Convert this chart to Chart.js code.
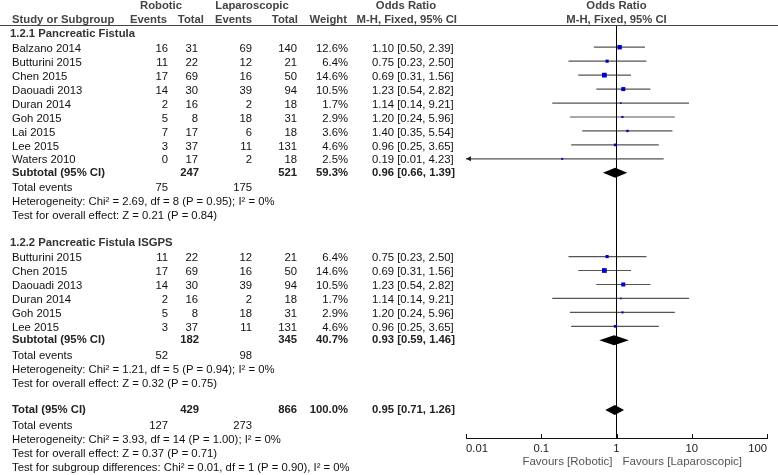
<!DOCTYPE html>
<html>
<head>
<meta charset="utf-8">
<script src="https://cdn.jsdelivr.net/npm/chart.js@4.4.0/dist/chart.umd.min.js"></script>
<style>
  html, body { margin: 0; padding: 0; background: #fff; }
  #wrap { width: 778px; height: 475px; }
</style>
</head>
<body>
<div id="wrap"><canvas id="forest" width="778" height="475"></canvas></div>
<script>
// Study rows, both subgroups, in the order they are listed
const studyNames = ['Balzano 2014', 'Butturini 2015', 'Chen 2015', 'Daouadi 2013', 'Duran 2014', 'Goh 2015', 'Lai 2015', 'Lee 2015', 'Waters 2010',
  'Butturini 2015', 'Chen 2015', 'Daouadi 2013', 'Duran 2014', 'Goh 2015', 'Lee 2015'];
const roboticEvents = [16, 11, 17, 14, 2, 5, 7, 3, 0, 11, 17, 14, 2, 5, 3];
const roboticTotals = [31, 22, 69, 30, 16, 8, 17, 37, 17, 22, 69, 30, 16, 8, 37];
const lapEvents = [69, 12, 16, 39, 2, 18, 6, 11, 2, 12, 16, 39, 2, 18, 11];
const lapTotals = [140, 21, 50, 94, 18, 31, 18, 131, 18, 21, 50, 94, 18, 31, 131];
const weights = [12.6, 6.4, 14.6, 10.5, 1.7, 2.9, 3.6, 4.6, 2.5, 6.4, 14.6, 10.5, 1.7, 2.9, 4.6];
const oddsRatios = [1.10, 0.75, 0.69, 1.23, 1.14, 1.20, 1.40, 0.96, 0.19, 0.75, 0.69, 1.23, 1.14, 1.20, 0.96];
const ciLower = [0.50, 0.23, 0.31, 0.54, 0.14, 0.24, 0.35, 0.25, 0.01, 0.23, 0.31, 0.54, 0.14, 0.24, 0.25];
const ciUpper = [2.39, 2.50, 1.56, 2.82, 9.21, 5.96, 5.54, 3.65, 4.23, 2.50, 1.56, 2.82, 9.21, 5.96, 3.65];

// Subgroups
const subgroupNames = ['1.2.1 Pancreatic Fistula', '1.2.2 Pancreatic Fistula ISGPS'];
const subgroupSizes = [9, 6];
const subRoboticTotals = [247, 182];
const subLapTotals = [521, 345];
const subRoboticEvents = [75, 52];
const subLapEvents = [175, 98];
const subWeights = [59.3, 40.7];
const subOR = [0.96, 0.93];
const subLower = [0.66, 0.59];
const subUpper = [1.39, 1.46];
const subHeterogeneity = ['Heterogeneity: Chi² = 2.69, df = 8 (P = 0.95); I² = 0%', 'Heterogeneity: Chi² = 1.21, df = 5 (P = 0.94); I² = 0%'];
const subOverallTest = ['Test for overall effect: Z = 0.21 (P = 0.84)', 'Test for overall effect: Z = 0.32 (P = 0.75)'];

// Overall
const totalRobotic = 429;
const totalLap = 866;
const totalWeight = 100.0;
const totalOR = 0.95;
const totalLower = 0.71;
const totalUpper = 1.26;
const totalRoboticEvents = 127;
const totalLapEvents = 273;
const totalNotes = ['Heterogeneity: Chi² = 3.93, df = 14 (P = 1.00); I² = 0%',
  'Test for overall effect: Z = 0.37 (P = 0.71)',
  'Test for subgroup differences: Chi² = 0.01, df = 1 (P = 0.90), I² = 0%'];

// Axis
const xTicks = [0.01, 0.1, 1, 10, 100];
const xTickLabels = ['0.01', '0.1', '1', '10', '100'];
const favoursLeft = 'Favours [Robotic]';
const favoursRight = 'Favours [Laparoscopic]';

// Work out which row each line of the table sits on
const headerRow = [];
const studyRow = [];
const subRow = [];
let r = 0;
subgroupSizes.forEach((n) => {
  headerRow.push(r); r++;
  for (let i = 0; i < n; i++) { studyRow.push(r); r++; }
  subRow.push(r); r += 5; // subtotal, total events, heterogeneity, test, blank line
});
const totalRow = r;

const Y_MIN = -0.52;
const Y_MAX = 29.0;
const FONT = '"Liberation Sans", Arial, sans-serif';
const FONT_SIZE = 11.3;

const col = { name: 12, robEv: 168, robTot: 198, lapEv: 252, lapTot: 297, weight: 348, or: 372 };

function fmtOR(v, lo, hi) {
  return v.toFixed(2) + ' [' + lo.toFixed(2) + ', ' + hi.toFixed(2) + ']';
}

// CI lines, broken into segments with empty points
const ciData = [];
studyNames.forEach((s, i) => {
  ciData.push({ x: Math.max(ciLower[i], xTicks[0]), y: studyRow[i] });
  ciData.push({ x: Math.min(ciUpper[i], xTicks[xTicks.length - 1]), y: studyRow[i] });
  ciData.push({ x: NaN, y: NaN });
});

// Diamonds, arrows, axis ticks
const marksPlugin = {
  id: 'marks',
  afterDatasetsDraw(chart) {
    const ctx = chart.ctx;
    const xs = chart.scales.x;
    const ys = chart.scales.y;

    function diamond(lo, est, hi, row) {
      const y = ys.getPixelForValue(row);
      ctx.beginPath();
      ctx.moveTo(xs.getPixelForValue(lo), y);
      ctx.lineTo(xs.getPixelForValue(est), y - 5);
      ctx.lineTo(xs.getPixelForValue(hi), y);
      ctx.lineTo(xs.getPixelForValue(est), y + 5);
      ctx.closePath();
      ctx.fill();
    }

    ctx.save();
    ctx.fillStyle = '#000';
    subOR.forEach((v, g) => diamond(subLower[g], v, subUpper[g], subRow[g]));
    diamond(totalLower, totalOR, totalUpper, totalRow);

    // arrow where the interval runs off the left end
    ctx.fillStyle = '#222';
    ciLower.forEach((lo, i) => {
      if (lo <= xTicks[0]) {
        const x = xs.getPixelForValue(xTicks[0]);
        const y = ys.getPixelForValue(studyRow[i]);
        ctx.beginPath();
        ctx.moveTo(x, y);
        ctx.lineTo(x + 5, y - 2.5);
        ctx.lineTo(x + 5, y + 2.5);
        ctx.closePath();
        ctx.fill();
      }
    });

    // tick marks point up into the plot
    ctx.strokeStyle = '#111';
    ctx.lineWidth = 1;
    const base = chart.chartArea.bottom;
    xTicks.forEach((v) => {
      const x = Math.round(xs.getPixelForValue(v)) + 0.5;
      ctx.beginPath();
      ctx.moveTo(x, base);
      ctx.lineTo(x, base - 4);
      ctx.stroke();
    });
    ctx.restore();
  }
};

// Table text
const tablePlugin = {
  id: 'table',
  afterDraw(chart) {
    const ctx = chart.ctx;
    const xs = chart.scales.x;
    const ys = chart.scales.y;
    const x1 = xs.getPixelForValue(1);

    function txt(s, x, row, align, bold, color, dy) {
      ctx.font = (bold ? 'bold ' : '') + FONT_SIZE + 'px ' + FONT;
      ctx.textAlign = align;
      ctx.fillStyle = color || '#111';
      ctx.fillText(s, x, ys.getPixelForValue(row) + (dy === undefined ? 1.5 : dy));
    }

    ctx.save();
    ctx.textBaseline = 'middle';

    // header rule
    ctx.strokeStyle = '#444';
    ctx.lineWidth = 1;
    ctx.beginPath();
    ctx.moveTo(0, chart.chartArea.top - 0.5);
    ctx.lineTo(chart.width, chart.chartArea.top - 0.5);
    ctx.stroke();

    const hc = '#444';
    txt('Robotic', 161, -2, 'center', true, hc, 0.5);
    txt('Laparoscopic', 252, -2, 'center', true, hc, 0.5);
    txt('Odds Ratio', 406, -2, 'center', true, hc, 0.5);
    txt('Odds Ratio', x1, -2, 'center', true, hc, 0.5);
    txt('Study or Subgroup', col.name, -1, 'left', true, hc, 0.5);
    txt('Events', 167, -1, 'right', true, hc, 0.5);
    txt('Total', 204, -1, 'right', true, hc, 0.5);
    txt('Events', 252, -1, 'right', true, hc, 0.5);
    txt('Total', 298, -1, 'right', true, hc, 0.5);
    txt('Weight', 347, -1, 'right', true, hc, 0.5);
    txt('M-H, Fixed, 95% CI', 457, -1, 'right', true, hc, 0.5);
    txt('M-H, Fixed, 95% CI', x1, -1, 'center', true, hc, 0.5);

    subgroupNames.forEach((name, g) => {
      txt(name, 10, headerRow[g], 'left', true, '#333', 0.5);
    });

    studyNames.forEach((name, i) => {
      const row = studyRow[i];
      txt(name, col.name, row, 'left');
      txt(String(roboticEvents[i]), col.robEv, row, 'right');
      txt(String(roboticTotals[i]), col.robTot, row, 'right');
      txt(String(lapEvents[i]), col.lapEv, row, 'right');
      txt(String(lapTotals[i]), col.lapTot, row, 'right');
      txt(weights[i].toFixed(1) + '%', col.weight, row, 'right');
      txt(fmtOR(oddsRatios[i], ciLower[i], ciUpper[i]), col.or, row, 'left');
    });

    subgroupNames.forEach((name, g) => {
      const row = subRow[g];
      txt('Subtotal (95% CI)', col.name, row, 'left', true, '#222', 0);
      txt(String(subRoboticTotals[g]), col.robTot + 1, row, 'right', true, '#222', 0);
      txt(String(subLapTotals[g]), col.lapTot, row, 'right', true, '#222', 0);
      txt(subWeights[g].toFixed(1) + '%', col.weight, row, 'right', true, '#222', 0);
      txt(fmtOR(subOR[g], subLower[g], subUpper[g]), col.or, row, 'left', true, '#222', 0);
      txt('Total events', col.name, row + 1, 'left');
      txt(String(subRoboticEvents[g]), col.robEv, row + 1, 'right');
      txt(String(subLapEvents[g]), col.lapEv, row + 1, 'right');
      txt(subHeterogeneity[g], col.name, row + 2, 'left');
      txt(subOverallTest[g], col.name, row + 3, 'left');
    });

    txt('Total (95% CI)', col.name, totalRow, 'left', true, '#222', 0);
    txt(String(totalRobotic), col.robTot + 1, totalRow, 'right', true, '#222', 0);
    txt(String(totalLap), col.lapTot, totalRow, 'right', true, '#222', 0);
    txt(totalWeight.toFixed(1) + '%', col.weight, totalRow, 'right', true, '#222', 0);
    txt(fmtOR(totalOR, totalLower, totalUpper), col.or, totalRow, 'left', true, '#222', 0);
    txt('Total events', col.name, totalRow + 1, 'left');
    txt(String(totalRoboticEvents), col.robEv, totalRow + 1, 'right');
    txt(String(totalLapEvents), col.lapEv, totalRow + 1, 'right');
    totalNotes.forEach((s, k) => txt(s, col.name, totalRow + 2 + k, 'left'));

    // axis labels
    const base = chart.chartArea.bottom;
    ctx.font = FONT_SIZE + 'px ' + FONT;
    ctx.fillStyle = '#222';
    xTicks.forEach((v, k) => {
      ctx.textAlign = k === 0 ? 'left' : (k === xTicks.length - 1 ? 'right' : 'center');
      ctx.fillText(xTickLabels[k], xs.getPixelForValue(v), base + 10.5);
    });
    ctx.font = '11.5px ' + FONT;
    ctx.fillStyle = '#555';
    ctx.textAlign = 'right';
    ctx.fillText(favoursLeft, x1 - 4, base + 23.5);
    ctx.textAlign = 'left';
    ctx.fillText(favoursRight, x1 + 6, base + 23.5);
    ctx.restore();
  }
};

const ctx = document.getElementById('forest').getContext('2d');
const forestChart = new Chart(ctx, {
  type: 'scatter',
  data: {
    datasets: [
      {
        label: 'Study',
        data: studyNames.map((s, i) => ({ x: oddsRatios[i], y: studyRow[i] })),
        pointStyle: 'rect',
        pointRadius: weights.map(w => 0.88 * Math.sqrt(w)),
        pointHoverRadius: weights.map(w => 0.88 * Math.sqrt(w)),
        backgroundColor: '#0000cc',
        borderWidth: 0,
        order: 0,
        clip: false
      },
      {
        label: 'No effect',
        data: [{ x: 1, y: Y_MIN }, { x: 1, y: Y_MAX }],
        showLine: true,
        pointRadius: 0,
        borderColor: '#000',
        borderWidth: 1,
        order: 1
      },
      {
        label: '95% CI',
        data: ciData,
        showLine: true,
        spanGaps: false,
        pointRadius: 0,
        borderColor: '#555',
        borderWidth: 1.2,
        order: 2
      }
    ]
  },
  options: {
    responsive: false,
    animation: false,
    layout: { padding: { left: 466, right: 11, top: 26, bottom: 0 } },
    scales: {
      x: {
        type: 'logarithmic',
        min: xTicks[0],
        max: xTicks[xTicks.length - 1],
        grid: { display: false },
        border: { display: true, color: '#111', width: 1 },
        ticks: { display: false },
        afterFit: (scale) => { scale.height = 37; }
      },
      y: {
        type: 'linear',
        min: Y_MIN,
        max: Y_MAX,
        reverse: true,
        display: false
      }
    },
    plugins: {
      legend: { display: false },
      tooltip: { enabled: false }
    }
  },
  plugins: [marksPlugin, tablePlugin]
});
</script>
</body>
</html>
